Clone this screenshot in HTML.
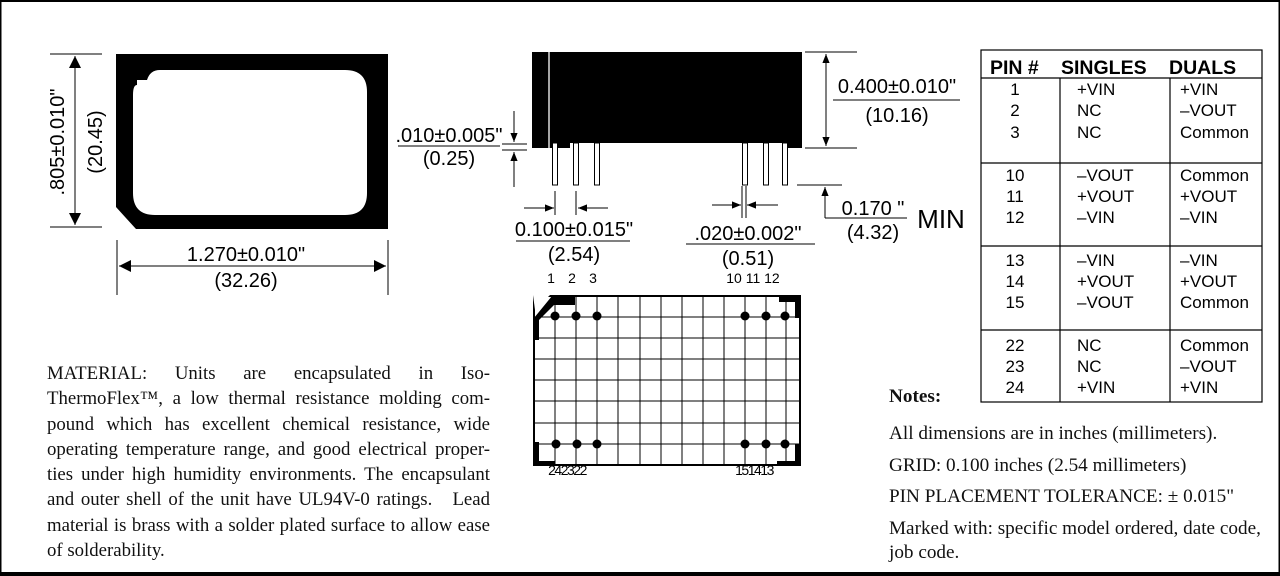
<!DOCTYPE html>
<html><head><meta charset="utf-8"><style>
body{margin:0;width:1280px;height:576px;overflow:hidden;background:#fff;position:relative}
svg{position:absolute;left:0;top:0}
.mat{position:absolute;left:47px;top:361px;width:443px;font:18.8px "Liberation Serif",serif;line-height:25.3px;color:#111}
.mat div{text-align:justify;text-align-last:justify;white-space:nowrap}
.mat div.l{text-align-last:left}
.notes{position:absolute;left:889px;top:385px;font:19.2px "Liberation Serif",serif;color:#111;white-space:nowrap}
</style></head><body>
<svg width="1280" height="576" viewBox="0 0 1280 576" font-family="Liberation Sans, sans-serif">
<defs><marker id="a" viewBox="0 0 10 10" refX="10" refY="5" markerWidth="9" markerHeight="9" orient="auto-start-reverse" markerUnits="userSpaceOnUse"><path d="M0,1 L10,5 L0,9z" fill="#000"/></marker>
<marker id="b" viewBox="0 0 10 10" refX="10" refY="5" markerWidth="18" markerHeight="12" orient="auto-start-reverse" markerUnits="userSpaceOnUse"><path d="M0,0 L10,5 L0,10z" fill="#000"/></marker></defs>
<rect x="0.5" y="1" width="1279" height="572" fill="none" stroke="#000" stroke-width="2"/>
<rect x="0" y="572" width="1280" height="4" fill="#000"/>
<path d="M116,54 H388 V229 H136 L116,207 Z" fill="#000"/>
<path d="M137,80 H147 Q150,70 160,70 H345 Q367,70 367,92 V193 Q367,215 345,215 H155 Q133,215 133,193 V95 Q133,85 137,85 Z" fill="#fff"/>
<g stroke="#000" stroke-width="1" fill="none">
<line x1="50" y1="54" x2="102" y2="54"/><line x1="50" y1="227" x2="102" y2="227"/>
<line x1="75" y1="56" x2="75" y2="225" marker-start="url(#b)" marker-end="url(#b)"/>
<line x1="117" y1="240" x2="117" y2="295"/><line x1="388" y1="240" x2="388" y2="295"/>
<line x1="119" y1="266" x2="386" y2="266" marker-start="url(#b)" marker-end="url(#b)"/>
</g>
<g font-size="20" text-anchor="middle">
<text transform="translate(64,142) rotate(-90)">.805±0.010"</text>
<text transform="translate(102,142) rotate(-90)">(20.45)</text>
<text x="246" y="261">1.270±0.010"</text>
<text x="246" y="287">(32.26)</text>
</g>
<path d="M532,52 H802 V148 H782 V143 H570 V148 H532 Z" fill="#000"/>
<line x1="549" y1="52" x2="549" y2="148" stroke="#fff" stroke-width="1.3"/>
<g fill="#fff" stroke="#000" stroke-width="1">
<rect x="552.5" y="143" width="5" height="42"/><rect x="573.5" y="143" width="5" height="42"/><rect x="594.5" y="143" width="5" height="42"/>
<rect x="742.5" y="143" width="5" height="42"/><rect x="763.5" y="143" width="5" height="42"/><rect x="782.5" y="143" width="5" height="42"/>
</g>
<g stroke="#000" stroke-width="1" fill="none">
<line x1="805" y1="52" x2="857" y2="52"/><line x1="805" y1="148" x2="857" y2="148"/>
<line x1="826" y1="54" x2="826" y2="146" marker-start="url(#a)" marker-end="url(#a)"/>
<line x1="833" y1="100" x2="960" y2="100"/>
<line x1="502" y1="144" x2="527" y2="144"/><line x1="502" y1="150" x2="527" y2="150"/>
<line x1="514" y1="111" x2="514" y2="142" marker-end="url(#a)"/>
<line x1="514" y1="187" x2="514" y2="152" marker-end="url(#a)"/>
<line x1="398" y1="146" x2="500" y2="146"/>
<line x1="555" y1="191" x2="555" y2="215"/><line x1="576" y1="191" x2="576" y2="215"/>
<line x1="524" y1="208" x2="554" y2="208" marker-end="url(#a)"/>
<line x1="608" y1="208" x2="578" y2="208" marker-end="url(#a)"/>
<line x1="516" y1="241" x2="630" y2="241"/>
<line x1="742" y1="186" x2="742" y2="218"/><line x1="746" y1="186" x2="746" y2="218"/>
<line x1="712" y1="205" x2="741" y2="205" marker-end="url(#a)"/>
<line x1="778" y1="205" x2="747" y2="205" marker-end="url(#a)"/>
<line x1="686" y1="244" x2="815" y2="244"/>
<line x1="797" y1="185" x2="842" y2="185"/>
<line x1="825" y1="218" x2="825" y2="187" marker-end="url(#a)"/>
<line x1="825" y1="218" x2="907" y2="218"/>
</g>
<g font-size="20" text-anchor="middle">
<text x="897" y="93">0.400±0.010"</text><text x="897" y="122">(10.16)</text>
<text x="449" y="142">.010±0.005"</text><text x="449" y="165">(0.25)</text>
<text x="574" y="236">0.100±0.015"</text><text x="574" y="261">(2.54)</text>
<text x="748" y="240">.020±0.002"</text><text x="748" y="265">(0.51)</text>
<text x="873" y="215">0.170 "</text><text x="873" y="239">(4.32)</text>
<text x="941" y="228" font-size="26">MIN</text>
</g>
<g font-size="14" text-anchor="middle">
<text x="551" y="283">1</text><text x="572" y="283">2</text><text x="593" y="283">3</text>
<text x="753" y="283">10 11 12</text>
<text x="567" y="475" letter-spacing="-1.5">242322</text>
<text x="754" y="475" letter-spacing="-1.5">151413</text>
</g>
<rect x="534" y="296" width="266" height="169" fill="none" stroke="#000" stroke-width="2"/>
<g stroke="#000" stroke-width="1">
<line x1="555" y1="296" x2="555" y2="465"/><line x1="576" y1="296" x2="576" y2="465"/><line x1="597" y1="296" x2="597" y2="465"/><line x1="618" y1="296" x2="618" y2="465"/><line x1="640" y1="296" x2="640" y2="465"/><line x1="661" y1="296" x2="661" y2="465"/><line x1="682" y1="296" x2="682" y2="465"/><line x1="703" y1="296" x2="703" y2="465"/><line x1="724" y1="296" x2="724" y2="465"/><line x1="745" y1="296" x2="745" y2="465"/><line x1="766" y1="296" x2="766" y2="465"/><line x1="786" y1="296" x2="786" y2="465"/>
<line x1="534" y1="317" x2="800" y2="317"/><line x1="534" y1="338" x2="800" y2="338"/><line x1="534" y1="359" x2="800" y2="359"/><line x1="534" y1="380" x2="800" y2="380"/><line x1="534" y1="401" x2="800" y2="401"/><line x1="534" y1="423" x2="800" y2="423"/><line x1="534" y1="444" x2="800" y2="444"/>
</g>
<path d="M533,295 H550 L535,310 Z" fill="#fff"/>
<path d="M534,318 L534,340 L539,340 L539,320 L554,305 L575,305 L575,296 L552,296 Z" fill="#000"/>
<path d="M779,296 H801 V318 H795 V302 H779 Z" fill="#000"/>
<path d="M533,442 V466 H555 V461 H539 V442 Z" fill="#000"/>
<path d="M801,444 V466 H777 V461 H795 V444 Z" fill="#000"/>
<g fill="#000">
<circle cx="555" cy="316" r="4.5"/><circle cx="576" cy="316" r="4.5"/><circle cx="597" cy="316" r="4.5"/><circle cx="745" cy="316" r="4.5"/><circle cx="766" cy="316" r="4.5"/><circle cx="785" cy="316" r="4.5"/>
<circle cx="556" cy="444" r="4.5"/><circle cx="577" cy="444" r="4.5"/><circle cx="597" cy="444" r="4.5"/><circle cx="745" cy="444" r="4.5"/><circle cx="766" cy="444" r="4.5"/><circle cx="785" cy="444" r="4.5"/>
</g>
<g stroke="#000" stroke-width="1.2" fill="none">
<rect x="981" y="50" width="281" height="352"/>
<line x1="981" y1="78" x2="1262" y2="78"/>
<line x1="1060" y1="78" x2="1060" y2="402"/><line x1="1170" y1="78" x2="1170" y2="402"/>
<line x1="981" y1="163" x2="1262" y2="163"/><line x1="981" y1="246" x2="1262" y2="246"/><line x1="981" y1="330" x2="1262" y2="330"/>
</g>
<g font-size="19.5" font-weight="bold"><text x="990" y="74">PIN #</text><text x="1061" y="74">SINGLES</text><text x="1169" y="74">DUALS</text></g>
<g font-size="17">
<g text-anchor="middle"><text x="1015" y="95">1</text><text x="1015" y="116">2</text><text x="1015" y="138">3</text>
<text x="1015" y="181">10</text><text x="1015" y="202">11</text><text x="1015" y="223">12</text>
<text x="1015" y="266">13</text><text x="1015" y="287">14</text><text x="1015" y="308">15</text>
<text x="1015" y="351">22</text><text x="1015" y="372">23</text><text x="1015" y="393">24</text></g>
<text x="1077" y="95">+VIN</text><text x="1077" y="116">NC</text><text x="1077" y="138">NC</text>
<text x="1077" y="181">–VOUT</text><text x="1077" y="202">+VOUT</text><text x="1077" y="223">–VIN</text>
<text x="1077" y="266">–VIN</text><text x="1077" y="287">+VOUT</text><text x="1077" y="308">–VOUT</text>
<text x="1077" y="351">NC</text><text x="1077" y="372">NC</text><text x="1077" y="393">+VIN</text>
<text x="1180" y="95">+VIN</text><text x="1180" y="116">–VOUT</text><text x="1180" y="138">Common</text>
<text x="1180" y="181">Common</text><text x="1180" y="202">+VOUT</text><text x="1180" y="223">–VIN</text>
<text x="1180" y="266">–VIN</text><text x="1180" y="287">+VOUT</text><text x="1180" y="308">Common</text>
<text x="1180" y="351">Common</text><text x="1180" y="372">–VOUT</text><text x="1180" y="393">+VIN</text>
</g>
</svg>
<div class="mat">
<div>MATERIAL: Units are encapsulated in Iso-</div>
<div>ThermoFlex™, a low thermal resistance molding com-</div>
<div>pound which has excellent chemical resistance, wide</div>
<div>operating temperature range, and good electrical proper-</div>
<div>ties under high humidity environments. The encapsulant</div>
<div>and outer shell of the unit have UL94V-0 ratings. &nbsp; Lead</div>
<div>material is brass with a solder plated surface to allow ease</div>
<div class="l">of solderability.</div>
</div>
<div class="notes">
<div style="font-weight:bold;line-height:24px">Notes:</div>
<div style="margin-top:9px;line-height:31.5px">All dimensions are in inches (millimeters).<br>GRID: 0.100 inches (2.54 millimeters)<br>PIN PLACEMENT TOLERANCE: ± 0.015"</div>
<div style="line-height:24px;margin-top:4px">Marked with: specific model ordered, date code,<br>job code.</div>
</div>
</body></html>
